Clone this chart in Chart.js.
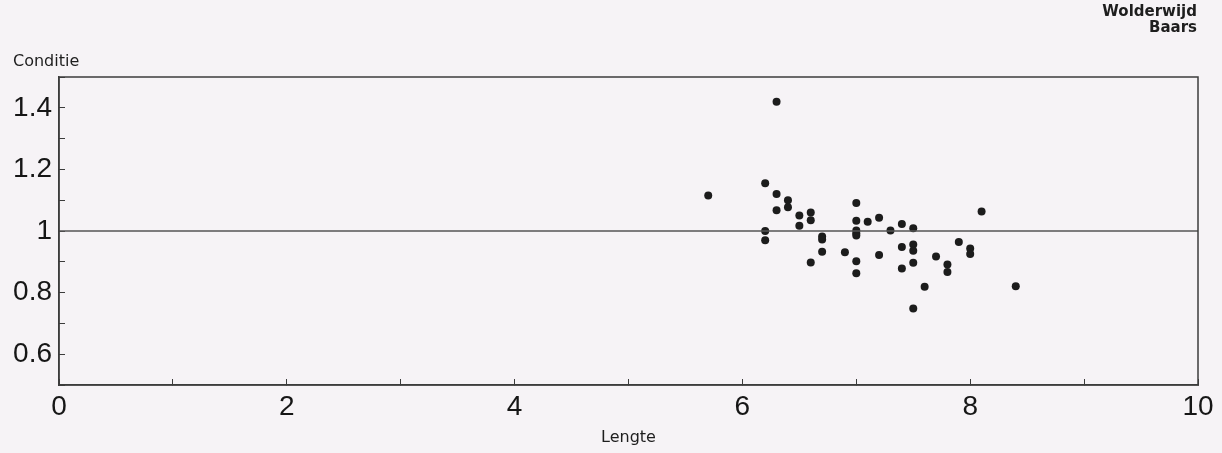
<!DOCTYPE html>
<html>
<head>
<meta charset="utf-8">
<script src="https://cdn.jsdelivr.net/npm/chart.js@4/dist/chart.umd.min.js"></script>
<style>
    body { margin: 0; background: #f6f3f6; }
    #wrap { width: 1222px; height: 453px; position: relative; }
</style>
</head>
<body>
<div id="wrap"><canvas id="myChart"></canvas></div>
<script>
"use strict";

// Lengte (x) en conditie (y) per vis
const lengte = [5.7, 6.2, 6.2, 6.2, 6.3, 6.3, 6.3, 6.4, 6.4, 6.5, 6.5, 6.6, 6.6, 6.6, 6.7, 6.7, 6.7, 6.9,
    7.0, 7.0, 7.0, 7.0, 7.0, 7.0, 7.0, 7.1, 7.2, 7.2, 7.3, 7.4, 7.4, 7.4, 7.5, 7.5, 7.5, 7.5, 7.5,
    7.6, 7.7, 7.8, 7.8, 7.9, 8.0, 8.0, 8.1, 8.4]
const conditie = [1.115, 1.155, 1.0, 0.97, 1.42, 1.12, 1.067, 1.10, 1.077, 1.05, 1.017, 1.06, 1.035, 0.898,
    0.982, 0.972, 0.933, 0.931, 1.091, 1.033, 1.002, 0.993, 0.985, 0.902, 0.863, 1.03, 1.043, 0.922,
    1.002, 1.023, 0.948, 0.878, 1.009, 0.956, 0.936, 0.897, 0.748, 0.819, 0.917, 0.891, 0.867, 0.964,
    0.943, 0.925, 1.063, 0.821]
const referentieX = [0, 10]
const referentieY = [1, 1]
const xLabels = ['0', '2', '4', '6', '8', '10']
const yLabels = ['0.6', '0.8', '1', '1.2', '1.4']

const tickFont = '"Liberation Sans", Arial, Helvetica, sans-serif'
const labelFont = '"DejaVu Sans", sans-serif'
const lineColor = '#3c3c3c'

const framePlugin = {
    id: 'frame',
    afterDraw: chart => {
        const { ctx, chartArea } = chart
        ctx.save()
        ctx.strokeStyle = lineColor
        ctx.lineWidth = 1.5
        ctx.strokeRect(chartArea.left, chartArea.top, chartArea.right - chartArea.left, chartArea.bottom - chartArea.top)
        ctx.fillStyle = '#1e1e1e'
        ctx.textBaseline = 'middle'
        ctx.font = '16px ' + labelFont
        ctx.textAlign = 'left'
        ctx.fillText('Conditie', 13, 62)
        ctx.font = 'bold 15px ' + labelFont
        ctx.textAlign = 'right'
        ctx.fillText('Wolderwijd', 1197, 12)
        ctx.fillText('Baars', 1197, 28)
        ctx.restore()
    }
}

const points = lengte.map((x, i) => ({ x, y: conditie[i] }))
const refLine = referentieX.map((x, i) => ({ x, y: referentieY[i] }))

new Chart('myChart', {
    type: 'scatter',
    data: {
        datasets: [
            {
                data: refLine,
                showLine: true,
                borderColor: '#555',
                borderWidth: 1.5,
                pointRadius: 0
            },
            {
                data: points,
                backgroundColor: '#1c1c1c',
                borderWidth: 0,
                pointRadius: 4
            }
        ]
    },
    options: {
        responsive: true,
        maintainAspectRatio: false,
        animation: false,
        layout: { padding: { top: 77, right: 24, left: 0, bottom: 0 } },
        plugins: { legend: { display: false }, tooltip: { enabled: false } },
        scales: {
            x: {
                min: 0,
                max: 10,
                afterFit: scale => {
                    scale.height = 68
                    scale.paddingRight = 0
                    scale.paddingLeft = 0
                },
                ticks: {
                    stepSize: 1,
                    autoSkip: false,
                    maxRotation: 0,
                    padding: 11,
                    color: '#161616',
                    font: { family: tickFont, size: 28 },
                    callback: v => xLabels.includes(String(v)) ? String(v) : ''
                },
                grid: { drawOnChartArea: false, tickLength: -6, tickColor: lineColor },
                border: { color: lineColor, width: 1.5 },
                title: {
                    display: true,
                    text: 'Lengte',
                    color: '#1e1e1e',
                    font: { family: labelFont, size: 16 },
                    padding: { top: 0, bottom: 6 }
                }
            },
            y: {
                min: 0.5,
                max: 1.5,
                afterFit: scale => { scale.width = 59 },
                ticks: {
                    stepSize: 0.1,
                    autoSkip: false,
                    padding: 13,
                    color: '#161616',
                    font: { family: tickFont, size: 28 },
                    callback: v => {
                        const label = String(Math.round(v * 10) / 10)
                        return yLabels.includes(label) ? label : ''
                    }
                },
                grid: { drawOnChartArea: false, tickLength: -6, tickColor: lineColor },
                border: { color: lineColor, width: 1.5 }
            }
        }
    },
    plugins: [framePlugin]
})
</script>
</body>
</html>
